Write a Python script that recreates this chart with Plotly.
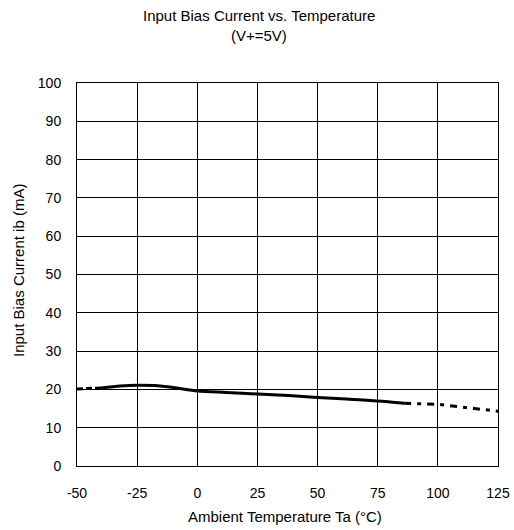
import plotly.graph_objects as go

# Data
temp_left = [-50, -45, -40]
ib_left = [20.1, 20.2, 20.4]

temp_solid = [-40, -32, -25, -18, -10, 0, 12, 25, 38, 50, 62, 75, 86]
ib_solid = [20.4, 20.9, 21.1, 21.0, 20.5, 19.6, 19.2, 18.8, 18.4, 17.9, 17.5, 17.0, 16.4]

temp_right = [86, 100, 125]
ib_right = [16.4, 16.1, 14.3]

x_ticks = [-50, -25, 0, 25, 50, 75, 100, 125]
y_ticks = [0, 10, 20, 30, 40, 50, 60, 70, 80, 90, 100]

FONT = "Liberation Sans, Arial, sans-serif"
L, R, T, B = 77, 498, 83, 466  # plot area in pixels

fig = go.Figure()
fig.add_trace(go.Scatter(x=temp_left, y=ib_left, mode="lines",
                         line=dict(color="black", width=3, dash="6px,3px"),
                         showlegend=False, hoverinfo="skip"))
fig.add_trace(go.Scatter(x=temp_solid, y=ib_solid, mode="lines",
                         line=dict(color="black", width=3, shape="spline", smoothing=0.8),
                         showlegend=False))
fig.add_trace(go.Scatter(x=temp_right, y=ib_right, mode="lines",
                         line=dict(color="black", width=3, dash="7px,6px,4px,6px"),
                         showlegend=False))

def px_x(p):
    return (p - L) / (R - L)

def px_y(p):
    return (B - p) / (B - T)

fig.update_layout(
    width=514, height=530,
    margin=dict(l=L, r=514 - R, t=T, b=530 - B, autoexpand=False),
    paper_bgcolor="white", plot_bgcolor="white",
    font=dict(family=FONT, color="black", size=14),
    showlegend=False,
    annotations=[
        dict(text="Input Bias Current vs. Temperature", xref="paper", yref="paper",
             x=px_x(259), y=px_y(15), xanchor="center", yanchor="middle",
             showarrow=False, font=dict(family=FONT, size=15, color="black")),
        dict(text="(V+=5V)", xref="paper", yref="paper",
             x=px_x(259), y=px_y(35), xanchor="center", yanchor="middle",
             showarrow=False, font=dict(family=FONT, size=15, color="black")),
        dict(text="Ambient Temperature Ta (°C)", xref="paper", yref="paper",
             x=px_x(285), y=px_y(516), xanchor="center", yanchor="middle",
             showarrow=False, font=dict(family=FONT, size=15, color="black")),
        dict(text="Input Bias Current ib (mA)", xref="paper", yref="paper",
             x=px_x(18), y=px_y(271), xanchor="center", yanchor="middle", textangle=-90,
             showarrow=False, font=dict(family=FONT, size=15, color="black")),
    ],
)
fig.update_xaxes(range=[-50, 125], tickvals=x_ticks, ticktext=[str(v) for v in x_ticks],
                 showgrid=True, gridcolor="black", gridwidth=1,
                 showline=True, linecolor="black", linewidth=1, mirror=True,
                 zeroline=False, ticks="outside", ticklen=14, tickcolor="rgba(0,0,0,0)",
                 automargin=False,
                 tickfont=dict(family=FONT, size=14, color="black"))
fig.update_yaxes(range=[0, 100], tickvals=y_ticks,
                 showgrid=True, gridcolor="black", gridwidth=1,
                 showline=True, linecolor="black", linewidth=1, mirror=True,
                 zeroline=False, ticks="outside", ticklen=12, tickcolor="rgba(0,0,0,0)",
                 automargin=False,
                 tickfont=dict(family=FONT, size=14, color="black"))

fig.write_html("out.html", config={"displayModeBar": False},
               post_script="document.body.style.margin='0px';")
